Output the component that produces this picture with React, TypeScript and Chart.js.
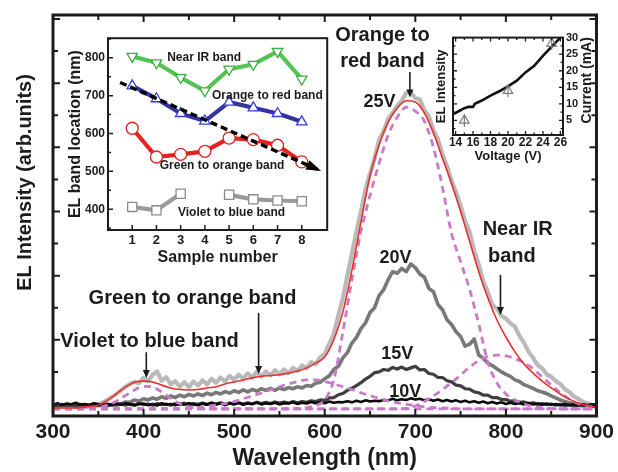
import React, { useEffect, useRef } from 'react';
import { Chart, registerables } from 'chart.js';

Chart.register(...registerables);

const FONT = '"Liberation Sans", Arial, Helvetica, sans-serif';
const INK = '#1c1c1c';

// ---------------- main spectra ----------------
const wavelengths10 = [300, 310, 320, 330, 340, 350, 360, 370, 380, 390, 400, 410, 420, 430, 440, 450, 460, 470, 480, 490, 500, 510, 520, 530, 540, 550, 560, 570, 580, 590, 600, 610, 620, 630, 640, 650, 660, 670, 680, 690, 700, 710, 720, 730, 740, 750, 760, 770, 780, 790, 800, 810, 820, 830, 840, 850, 860, 870, 880, 890, 900];

const wavelengths5 = [
  300, 305, 310, 315, 320, 325, 330, 335, 340, 345,
  350, 355, 360, 365, 370, 375, 380, 385, 390, 395,
  400, 405, 410, 415, 420, 425, 430, 435, 440, 445,
  450, 455, 460, 465, 470, 475, 480, 485, 490, 495,
  500, 505, 510, 515, 520, 525, 530, 535, 540, 545,
  550, 555, 560, 565, 570, 575, 580, 585, 590, 595,
  600, 605, 610, 615, 620, 625, 630, 635, 640, 645,
  650, 655, 660, 665, 670, 675, 680, 685, 690, 695,
  700, 705, 710, 715, 720, 725, 730, 735, 740, 745,
  750, 755, 760, 765, 770, 775, 780, 785, 790, 795,
  800, 805, 810, 815, 820, 825, 830, 835, 840, 845,
  850, 855, 860, 865, 870, 875, 880, 885, 890, 895,
  900,
];

const fitTotal = [
  2.0, 2.0, 2.0, 2.1, 2.4, 2.7, 3.9, 5.5, 7.2, 8.4,
  8.7, 8.5, 7.7, 7.0, 6.6, 6.5, 6.6, 7.0, 7.3, 8.0,
  8.5, 9.0, 9.5, 9.9, 10.1, 10.3, 10.7, 11.2, 12.0, 13.2,
  14.7, 19.0, 25.9, 36.4, 48.4, 59.9, 67.6, 73.3, 76.8, 78.6,
  78.3, 75.6, 70.6, 64.3, 58.0, 51.0, 43.5, 36.0, 29.5, 24.0,
  19.7, 16.0, 13.0, 10.7, 8.7, 7.0, 5.5, 4.2, 3.2, 2.6,
  2.2,
];

const fitVioletBlue = [
  1.8, 1.8, 1.8, 1.8, 1.9, 2.1, 2.7, 3.7, 5.1, 6.5,
  7.4, 7.2, 6.0, 4.4, 3.1, 2.3, 1.9, 1.8, 1.8, 1.8,
  1.8, 1.8, 1.8, 1.8, 1.8, 1.8, 1.8, 1.8, 1.8, 1.8,
  1.8, 1.8, 1.8, 1.8, 1.8, 1.8, 1.8, 1.8, 1.8, 1.8,
  1.8, 1.8, 1.8, 1.8, 1.8, 1.8, 1.8, 1.8, 1.8, 1.8,
  1.8, 1.8, 1.8, 1.8, 1.8, 1.8, 1.8, 1.8, 1.8, 1.8,
  1.8,
];

const fitGreenOrange = [
  1.8, 1.8, 1.8, 1.8, 1.8, 1.8, 1.8, 1.8, 1.8, 1.8,
  1.8, 1.8, 1.8, 1.8, 1.8, 1.9, 2.1, 2.4, 2.7, 3.1,
  3.6, 4.3, 5.0, 5.7, 6.5, 7.3, 8.0, 8.6, 9.0, 9.0,
  8.6, 8.0, 7.3, 6.6, 5.8, 5.1, 4.4, 3.8, 3.3, 2.9,
  2.6, 2.3, 2.1, 2.0, 1.9, 1.8, 1.8, 1.8, 1.8, 1.8,
  1.8, 1.8, 1.8, 1.8, 1.8, 1.8, 1.8, 1.8, 1.8, 1.8,
  1.8,
];

const fitOrangeRed = [
  1.8, 1.8, 1.8, 1.8, 1.8, 1.8, 1.8, 1.8, 1.8, 1.8,
  1.8, 1.8, 1.8, 1.8, 1.8, 1.8, 1.8, 1.8, 1.8, 1.8,
  1.8, 1.8, 1.8, 1.8, 1.8, 1.8, 1.8, 1.9, 2.1, 2.6,
  4.0, 9.0, 21.0, 34.0, 46.0, 55.0, 63.0, 70.0, 74.5, 77.0,
  76.0, 73.5, 67.0, 57.0, 45.5, 38.5, 31.5, 23.0, 13.5, 8.3,
  5.5, 4.0, 3.0, 2.4, 2.0, 1.9, 1.8, 1.8, 1.8, 1.8,
  1.8,
];

const fitNearIR = [
  1.8, 1.8, 1.8, 1.8, 1.8, 1.8, 1.8, 1.8, 1.8, 1.8,
  1.8, 1.8, 1.8, 1.8, 1.8, 1.8, 1.8, 1.8, 1.8, 1.8,
  1.8, 1.8, 1.8, 1.8, 1.8, 1.8, 1.8, 1.8, 1.8, 1.8,
  1.8, 1.8, 1.8, 1.8, 1.8, 1.8, 1.8, 1.8, 1.8, 1.9,
  2.5, 3.6, 5.0, 6.6, 8.3, 10.2, 12.2, 13.8, 14.8, 15.2,
  15.0, 14.3, 13.3, 11.8, 9.7, 7.8, 5.8, 4.2, 3.1, 2.5,
  2.2,
];

const el25V = [
  2.3, 2.1, 2.5, 2.0, 2.4, 2.2, 2.6, 2.1, 2.4, 2.6,
  2.9, 3.4, 4.0, 4.7, 5.5, 6.4, 7.3, 8.0, 8.5, 8.2,
  9.5, 8.7, 10.3, 11.1, 8.8, 9.7, 7.9, 8.7, 7.3, 8.4,
  7.2, 8.6, 7.6, 8.9, 7.9, 9.3, 8.3, 9.6, 8.6, 10.0,
  9.0, 10.3, 9.3, 10.6, 9.6, 11.0, 9.8, 11.1, 10.1, 11.4,
  10.4, 11.6, 10.7, 12.0, 11.2, 12.6, 11.9, 13.4, 12.9, 14.6,
  15.5, 18.0, 20.5, 25.0, 29.5, 35.0, 40.5, 46.0, 51.0, 56.5,
  60.5, 64.2, 68.9, 71.0, 74.1, 75.6, 77.4, 78.6, 80.6, 80.8,
  79.2, 79.0, 76.2, 74.8, 71.2, 69.0, 65.2, 62.3, 58.7, 55.8,
  52.5, 48.6, 45.9, 41.2, 37.8, 33.6, 30.9, 27.7, 26.8, 25.0,
  24.3, 23.1, 22.3, 20.0, 18.3, 16.0, 14.5, 12.7, 11.9, 10.4,
  9.8, 8.7, 8.0, 6.7, 6.0, 4.9, 4.3, 3.5, 3.2, 2.7,
  2.5,
];

const el20V = [
  2.6, 2.4, 2.7, 2.5, 2.6, 2.4, 2.7, 2.5, 2.8, 2.5,
  2.7, 2.6, 2.9, 2.8, 3.1, 3.0, 3.5, 3.4, 4.0, 3.7,
  4.3, 4.0, 4.5, 4.2, 4.8, 4.4, 5.0, 4.6, 5.2, 4.8,
  5.4, 5.0, 5.5, 5.1, 5.7, 5.3, 5.9, 5.5, 6.1, 5.7,
  6.3, 5.9, 6.5, 6.0, 6.6, 6.2, 6.8, 6.4, 6.9, 6.4,
  7.0, 6.6, 7.1, 6.8, 7.3, 7.0, 7.6, 7.4, 8.2, 8.4,
  9.3, 10.0, 11.6, 12.4, 14.5, 15.8, 18.2, 19.6, 21.8, 23.2,
  25.8, 27.0, 30.0, 31.5, 34.0, 36.0, 35.6, 36.8, 36.0, 37.9,
  37.0, 35.4, 34.6, 31.8, 31.0, 27.8, 26.5, 24.0, 22.8, 21.0,
  19.8, 17.4, 17.9, 19.2, 15.2, 14.4, 13.2, 12.6, 11.8, 11.0,
  10.4, 9.9, 9.0, 8.6, 7.8, 7.4, 6.9, 6.3, 6.0, 5.6,
  5.0, 4.5, 4.0, 3.6, 3.3, 3.0, 2.8, 2.6, 2.7, 2.5,
  2.4,
];

const el15V = [
  2.8, 2.5, 2.9, 2.6, 2.8, 2.5, 2.9, 2.7, 2.6, 2.9,
  2.6, 2.8, 2.5, 2.9, 2.7, 3.0, 2.7, 3.0, 2.8, 3.1,
  2.8, 3.0, 2.7, 3.1, 2.8, 3.0, 2.7, 3.1, 2.9, 3.2,
  2.8, 3.1, 2.9, 3.2, 2.9, 3.2, 3.0, 3.3, 2.9, 3.2,
  3.0, 3.3, 3.0, 3.3, 3.0, 3.4, 3.1, 3.4, 3.1, 3.5,
  3.2, 3.5, 3.2, 3.6, 3.3, 3.6, 3.4, 3.8, 3.6, 4.0,
  3.9, 4.5, 4.6, 5.3, 5.6, 6.4, 6.9, 7.6, 8.3, 9.2,
  9.9, 10.8, 11.0, 11.6, 11.4, 12.1, 11.7, 12.2, 11.6, 12.0,
  12.4, 11.5, 11.6, 10.6, 10.4, 9.6, 9.6, 8.8, 8.5, 7.7,
  7.5, 6.8, 6.7, 6.0, 5.8, 5.2, 5.2, 4.6, 4.6, 4.1,
  4.1, 3.7, 3.8, 3.4, 3.5, 3.1, 3.3, 2.9, 3.1, 2.8,
  3.0, 2.7, 2.9, 2.6, 2.8, 2.5, 2.7, 2.5, 2.7, 2.4,
  2.6,
];

const el10V = [
  2.8, 3.2, 2.7, 3.1, 2.9, 3.3, 2.8, 3.0, 2.7, 3.2,
  2.9, 2.6, 3.0, 2.7, 3.1, 2.8, 3.2, 2.9, 2.6, 3.0,
  3.1, 2.7, 3.0, 2.6, 3.2, 2.8, 3.0, 2.7, 3.1, 2.8,
  3.2, 2.9, 2.7, 3.1, 2.8, 3.3, 2.9, 3.1, 2.7, 3.2,
  2.9, 3.3, 2.8, 3.1, 3.0, 3.4, 2.9, 3.2, 3.0, 3.3,
  2.9, 3.2, 3.1, 3.4, 3.0, 3.3, 3.1, 3.5, 3.2, 3.4,
  3.2, 3.6, 3.3, 3.5, 3.4, 3.7, 3.4, 3.8, 3.5, 3.9,
  3.6, 3.8, 3.7, 4.0, 3.9, 4.3, 3.9, 4.2, 4.0, 4.4,
  4.1, 4.3, 3.9, 4.2, 3.8, 4.1, 3.7, 4.0, 3.6, 3.9,
  3.5, 3.8, 3.4, 3.7, 3.3, 3.6, 3.2, 3.5, 3.1, 3.4,
  3.0, 3.3, 3.0, 3.2, 2.9, 3.2, 2.9, 3.1, 2.8, 3.1,
  2.8, 3.0, 2.7, 3.0, 2.7, 2.9, 2.7, 2.9, 2.6, 2.8,
  2.6,
];

const mainYTicks = [3, 19, 35, 51, 67, 83, 99];

// ---------------- inset 1: band location vs sample ----------------
const sampleNumbers = [1, 2, 3, 4, 5, 6, 7, 8];
const nearIRBand = [804, 787, 748, 713, 770, 783, 817, 744];
const orangeRedBand = [726, 692, 653, 633, 683, 668, 653, 631];
const greenOrangeBand = [614, 538, 545, 553, 588, 584, 569, 525];
const violetBlueBand = [406, 397, 441, null, 438, 426, 423, 421];
const bandTicks = [400, 500, 600, 700, 800];
const trendStart = [0.5, 735];
const trendEnd = [8.8, 501];

// ---------------- inset 2: current vs voltage ----------------
const voltage = [13.8, 14.5, 15, 15.5, 16, 16.2, 17, 18, 19, 20, 21, 22, 23, 24, 25, 26];
const current = [7.0, 8.0, 8.7, 9.1, 9.1, 10.0, 11.0, 12.5, 13.8, 15.3, 17.0, 19.5, 21.5, 24.5, 27.3, 30.0];
const elVoltage = [15, 20, 25];
const elIntensity = [5.0, 14.0, 28.2];
const voltageTicks = [14, 16, 18, 20, 22, 24, 26];
const currentTicks = [5, 10, 15, 20, 25, 30];

// ---------------- annotations (placed in data units) ----------------
const mainNotes = [
  { text: 'Orange to', x: 663.7, y: 95.0, size: 20 },
  { text: 'red band', x: 663.7, y: 88.3, size: 20 },
  { text: '25V', x: 660.4, y: 78.2, size: 18 },
  { text: '20V', x: 678, y: 39.4, size: 18 },
  { text: '15V', x: 680, y: 15.5, size: 18 },
  { text: '10V', x: 689, y: 6.0, size: 18 },
  { text: 'Near IR', x: 813, y: 46.4, size: 20 },
  { text: 'band', x: 806.6, y: 39.9, size: 20 },
  { text: 'Violet to blue band', x: 406.6, y: 18.7, size: 20 },
  { text: 'Green to orange band', x: 454, y: 29.2, size: 20 },
];
const mainArrows = [
  { x: 694, from: 85.8, to: 79.4 },
  { x: 794, from: 35.2, to: 25.2 },
  { x: 403, from: 15.9, to: 9.5 },
  { x: 527, from: 25.7, to: 10.5 },
];
const insetNotes = [
  { text: 'Near IR band', x: 3.97, y: 800 },
  { text: 'Orange to red band', x: 6.58, y: 701 },
  { text: 'Green to orange band', x: 4.71, y: 514 },
  { text: 'Violet to blue band', x: 5.1, y: 392 },
];

const pts = (xs: number[], ys: (number | null)[]) => xs.map((x, i) => ({ x, y: ys[i] }));
const bold = (size: number) => ({ family: FONT, size, weight: 'bold' as const });

type AxisTicks = { id: string; sides: string[]; major: number; minor: number };

function drawFrameAndTicks(chart: any, frameWidth: number, tickWidth: number, axes: AxisTicks[]) {
  const { ctx, chartArea: a } = chart;
  ctx.save();
  ctx.strokeStyle = INK;
  ctx.lineWidth = tickWidth;
  for (const ax of axes) {
    const s = chart.scales[ax.id];
    const vals: number[] = s.ticks.map((t: any) => t.value);
    const list: [number, number][] = vals.map((v) => [v, ax.major]);
    if (ax.minor > 0 && vals.length > 1) {
      for (let i = 0; i < vals.length - 1; i++) list.push([(vals[i] + vals[i + 1]) / 2, ax.minor]);
      const lo = vals[0] - (vals[1] - vals[0]) / 2;
      if (lo >= s.min) list.push([lo, ax.minor]);
      const n = vals.length;
      const hi = vals[n - 1] + (vals[n - 1] - vals[n - 2]) / 2;
      if (hi <= s.max) list.push([hi, ax.minor]);
    }
    ctx.beginPath();
    for (const [v, len] of list) {
      const p = s.getPixelForValue(v);
      for (const side of ax.sides) {
        if (side === 'bottom') { ctx.moveTo(p, a.bottom); ctx.lineTo(p, a.bottom - len); }
        if (side === 'top') { ctx.moveTo(p, a.top); ctx.lineTo(p, a.top + len); }
        if (side === 'left') { ctx.moveTo(a.left, p); ctx.lineTo(a.left + len, p); }
        if (side === 'right') { ctx.moveTo(a.right, p); ctx.lineTo(a.right - len, p); }
      }
    }
    ctx.stroke();
  }
  ctx.lineWidth = frameWidth;
  ctx.strokeRect(a.left, a.top, a.right - a.left, a.bottom - a.top);
  ctx.restore();
}

function drawHead(ctx: any, x1: number, y1: number, x2: number, y2: number, head: number, halfW: number) {
  const ang = Math.atan2(y2 - y1, x2 - x1);
  const bx = x2 - head * Math.cos(ang);
  const by = y2 - head * Math.sin(ang);
  ctx.beginPath();
  ctx.moveTo(x2, y2);
  ctx.lineTo(bx + halfW * Math.sin(ang), by - halfW * Math.cos(ang));
  ctx.lineTo(bx - halfW * Math.sin(ang), by + halfW * Math.cos(ang));
  ctx.closePath();
  ctx.fill();
}

function drawArrow(ctx: any, x1: number, y1: number, x2: number, y2: number, head: number, halfW: number, lw: number) {
  const ang = Math.atan2(y2 - y1, x2 - x1);
  ctx.save();
  ctx.strokeStyle = INK;
  ctx.fillStyle = INK;
  ctx.lineWidth = lw;
  ctx.beginPath();
  ctx.moveTo(x1, y1);
  ctx.lineTo(x2 - head * 0.8 * Math.cos(ang), y2 - head * 0.8 * Math.sin(ang));
  ctx.stroke();
  drawHead(ctx, x1, y1, x2, y2, head, halfW);
  ctx.restore();
}

function drawLabel(ctx: any, text: string, x: number, y: number, size: number, rotate = 0) {
  ctx.save();
  ctx.fillStyle = INK;
  ctx.font = `bold ${size}px ${FONT}`;
  ctx.textAlign = 'center';
  ctx.textBaseline = 'middle';
  ctx.translate(x, y);
  if (rotate) ctx.rotate(rotate);
  ctx.fillText(text, 0, 0);
  ctx.restore();
}

const mainDecor = {
  id: 'mainDecor',
  afterDatasetsDraw(chart: any) {
    const { ctx, chartArea: a, scales } = chart;
    drawFrameAndTicks(chart, 3, 2, [
      { id: 'x', sides: ['bottom', 'top'], major: 7, minor: 5 },
      { id: 'y', sides: ['left', 'right'], major: 7, minor: 5 },
    ]);
    for (const n of mainNotes) {
      drawLabel(ctx, n.text, scales.x.getPixelForValue(n.x), scales.y.getPixelForValue(n.y), n.size);
    }
    for (const ar of mainArrows) {
      const px = scales.x.getPixelForValue(ar.x);
      drawArrow(ctx, px, scales.y.getPixelForValue(ar.from), px, scales.y.getPixelForValue(ar.to), 8, 3.5, 1.6);
    }
    drawLabel(ctx, 'EL Intensity (arb.units)', a.left - 28, (a.top + a.bottom) / 2 - 33, 20, -Math.PI / 2);
  },
};

const inset1Decor = {
  id: 'inset1Decor',
  afterDatasetsDraw(chart: any) {
    const { ctx, scales } = chart;
    drawFrameAndTicks(chart, 2, 1.5, [
      { id: 'x', sides: ['bottom'], major: 5, minor: 0 },
      { id: 'y', sides: ['left'], major: 5, minor: 3 },
    ]);
    const x1 = scales.x.getPixelForValue(trendStart[0]);
    const y1 = scales.y.getPixelForValue(trendStart[1]);
    const x2 = scales.x.getPixelForValue(trendEnd[0]);
    const y2 = scales.y.getPixelForValue(trendEnd[1]);
    ctx.save();
    ctx.fillStyle = '#000';
    drawHead(ctx, x1, y1, x2, y2, 15, 5);
    ctx.restore();
    for (const n of insetNotes) {
      drawLabel(ctx, n.text, scales.x.getPixelForValue(n.x), scales.y.getPixelForValue(n.y), 12);
    }
  },
};

const inset2Decor = {
  id: 'inset2Decor',
  afterDatasetsDraw(chart: any) {
    const { ctx, chartArea: a } = chart;
    drawFrameAndTicks(chart, 2, 1.3, [
      { id: 'x', sides: ['bottom', 'top'], major: 4, minor: 2.5 },
      { id: 'yR', sides: ['left', 'right'], major: 4, minor: 2.5 },
    ]);
    drawLabel(ctx, 'Current (mA)', a.right + 24, (a.top + a.bottom) / 2 - 6, 14, -Math.PI / 2);
  },
};

export default function App() {
  const mainRef = useRef<HTMLCanvasElement>(null);
  const inset1Ref = useRef<HTMLCanvasElement>(null);
  const inset2Ref = useRef<HTMLCanvasElement>(null);

  useEffect(() => {
    const dashed = { borderColor: '#c77bc9', borderWidth: 2.8, borderDash: [7, 5], cubicInterpolationMode: 'monotone' as const };
    const mainChart = new Chart(mainRef.current as HTMLCanvasElement, {
      type: 'line',
      data: {
        datasets: [
          { label: 'Fit (sum)', data: pts(wavelengths10, fitTotal), borderColor: '#e8302c', borderWidth: 1.6, cubicInterpolationMode: 'monotone' },
          { label: 'Violet to blue', data: pts(wavelengths10, fitVioletBlue), ...dashed },
          { label: 'Green to orange', data: pts(wavelengths10, fitGreenOrange), ...dashed },
          { label: 'Orange to red', data: pts(wavelengths10, fitOrangeRed), ...dashed },
          { label: 'Near IR', data: pts(wavelengths10, fitNearIR), ...dashed },
          { label: '10V', data: pts(wavelengths5, el10V), borderColor: '#0a0a0a', borderWidth: 2.6 },
          { label: '15V', data: pts(wavelengths5, el15V), borderColor: '#3e3e3e', borderWidth: 3.2 },
          { label: '20V', data: pts(wavelengths5, el20V), borderColor: '#787878', borderWidth: 3.6 },
          { label: '25V', data: pts(wavelengths5, el25V), borderColor: '#b9b9b9', borderWidth: 4.2 },
        ] as any,
      },
      options: {
        responsive: false,
        animation: false,
        devicePixelRatio: 1,
        events: [],
        elements: { point: { radius: 0 }, line: { tension: 0, borderJoinStyle: 'round' } },
        layout: { padding: { top: 15, right: 20, left: 0, bottom: 0 } },
        plugins: { legend: { display: false }, tooltip: { enabled: false } },
        scales: {
          x: {
            type: 'linear', min: 300, max: 900,
            ticks: { stepSize: 100, font: bold(21), color: INK, padding: 4, maxRotation: 0, autoSkip: false },
            grid: { display: false, drawTicks: false },
            border: { display: false },
            title: { display: true, text: 'Wavelength (nm)', font: bold(23), color: INK, padding: { top: 0, bottom: 0 } },
            afterFit: (s: any) => { s.height = 56; },
          },
          y: {
            type: 'linear', min: 0, max: 100,
            afterBuildTicks: (s: any) => { s.ticks = mainYTicks.map((value) => ({ value })); },
            ticks: { display: false },
            grid: { display: false, drawTicks: false },
            border: { display: false },
            afterFit: (s: any) => { s.width = 53; },
          },
        } as any,
      },
      plugins: [mainDecor],
    });

    const marker = { pointRadius: 6, pointBackgroundColor: '#ffffff', pointBorderWidth: 1.3, borderWidth: 4.2 };
    const inset1 = new Chart(inset1Ref.current as HTMLCanvasElement, {
      type: 'line',
      data: {
        datasets: [
          { label: 'trend', data: [{ x: trendStart[0], y: trendStart[1] }, { x: trendEnd[0], y: trendEnd[1] }], borderColor: '#000', borderWidth: 3.4, borderDash: [7, 4], pointRadius: 0 },
          { label: 'Near IR band', data: pts(sampleNumbers, nearIRBand), borderColor: '#55c255', pointBorderColor: '#3aae3a', pointStyle: 'triangle', pointRotation: 180, ...marker },
          { label: 'Orange to red band', data: pts(sampleNumbers, orangeRedBand), borderColor: '#34349e', pointBorderColor: '#3c3cd8', pointStyle: 'triangle', ...marker },
          { label: 'Green to orange band', data: pts(sampleNumbers, greenOrangeBand), borderColor: '#e8211e', pointBorderColor: '#e02222', pointStyle: 'circle', ...marker },
          { label: 'Violet to blue band', data: pts(sampleNumbers, violetBlueBand), borderColor: '#9a9a9a', pointBorderColor: '#8a8a8a', pointStyle: 'rect', ...marker, pointRadius: 6.5 },
        ] as any,
      },
      options: {
        responsive: false,
        animation: false,
        devicePixelRatio: 1,
        events: [],
        spanGaps: false,
        elements: { line: { tension: 0, borderJoinStyle: 'round' } },
        layout: { padding: { top: 7, right: 7, left: 0, bottom: 0 } },
        plugins: { legend: { display: false }, tooltip: { enabled: false } },
        scales: {
          x: {
            type: 'linear', min: 0, max: 9.05,
            afterBuildTicks: (s: any) => { s.ticks = sampleNumbers.map((value) => ({ value })); },
            ticks: { font: bold(13), color: INK, padding: 3, maxRotation: 0, autoSkip: false },
            grid: { display: false, drawTicks: false },
            border: { display: false },
            title: { display: true, text: 'Sample number', font: bold(16), color: INK, padding: { top: 0, bottom: 3 } },
            afterFit: (s: any) => { s.height = 40; },
          },
          y: {
            type: 'linear', min: 345, max: 852,
            afterBuildTicks: (s: any) => { s.ticks = bandTicks.map((value) => ({ value })); },
            ticks: { font: bold(12), color: INK, padding: 3 },
            grid: { display: false, drawTicks: false },
            border: { display: false },
            title: { display: true, text: 'EL band location (nm)', font: bold(16), color: INK, padding: { top: 11, bottom: 0 } },
            afterFit: (s: any) => { s.width = 53; },
          },
        } as any,
      },
      plugins: [inset1Decor],
    });

    const inset2 = new Chart(inset2Ref.current as HTMLCanvasElement, {
      type: 'line',
      data: {
        datasets: [
          { label: 'EL intensity', data: pts(elVoltage, elIntensity), yAxisID: 'yL', showLine: false, pointStyle: 'triangle', pointRadius: 5.5, pointBorderColor: '#7a7a7a', pointBackgroundColor: 'rgba(255,255,255,0)', pointBorderWidth: 1.2 },
          { label: 'EL intensity stem', data: pts(elVoltage, elIntensity), yAxisID: 'yL', showLine: false, pointStyle: 'line', pointRotation: 90, pointRadius: 6.5, pointBorderColor: '#7a7a7a', pointBorderWidth: 1.2 },
          { label: 'Current', data: pts(voltage, current), yAxisID: 'yR', borderColor: '#111', borderWidth: 2.6, pointRadius: 0 },
        ] as any,
      },
      options: {
        responsive: false,
        animation: false,
        devicePixelRatio: 1,
        events: [],
        elements: { line: { tension: 0 } },
        layout: { padding: { top: 7, right: 0, left: 0, bottom: 0 } },
        plugins: { legend: { display: false }, tooltip: { enabled: false } },
        scales: {
          x: {
            type: 'linear', min: 13.7, max: 26.3,
            afterBuildTicks: (s: any) => { s.ticks = voltageTicks.map((value) => ({ value })); },
            ticks: { font: bold(12), color: INK, padding: 0, maxRotation: 0, autoSkip: false },
            grid: { display: false, drawTicks: false },
            border: { display: false },
            title: { display: true, text: 'Voltage (V)', font: bold(13), color: INK, padding: { top: 0, bottom: 6 } },
            afterFit: (s: any) => { s.height = 35; },
          },
          yL: {
            type: 'linear', position: 'left', min: 0.6, max: 30,
            ticks: { display: false },
            grid: { display: false, drawTicks: false },
            border: { display: false },
            title: { display: true, text: 'EL Intensity', font: bold(13), color: INK, padding: { top: 4, bottom: 0 } },
            afterFit: (s: any) => { s.width = 23; },
          },
          yR: {
            type: 'linear', position: 'right', min: 0.6, max: 30,
            afterBuildTicks: (s: any) => { s.ticks = currentTicks.map((value) => ({ value })); },
            ticks: { font: bold(11), color: INK, padding: 3 },
            grid: { display: false, drawTicks: false },
            border: { display: false },
            afterFit: (s: any) => { s.width = 47; },
          },
        } as any,
      },
      plugins: [inset2Decor],
    });

    return () => {
      mainChart.destroy();
      inset1.destroy();
      inset2.destroy();
    };
  }, []);

  return (
    <div style={{ position: 'absolute', left: 0, top: 0, width: 618, height: 472, background: '#ffffff', overflow: 'hidden' }}>
      <canvas ref={mainRef} width={618} height={472} style={{ position: 'absolute', left: 0, top: 0 }} />
      <canvas ref={inset1Ref} width={280} height={242} style={{ position: 'absolute', left: 55, top: 28 }} />
      <canvas ref={inset2Ref} width={180} height={142} style={{ position: 'absolute', left: 430, top: 28 }} />
    </div>
  );
}
